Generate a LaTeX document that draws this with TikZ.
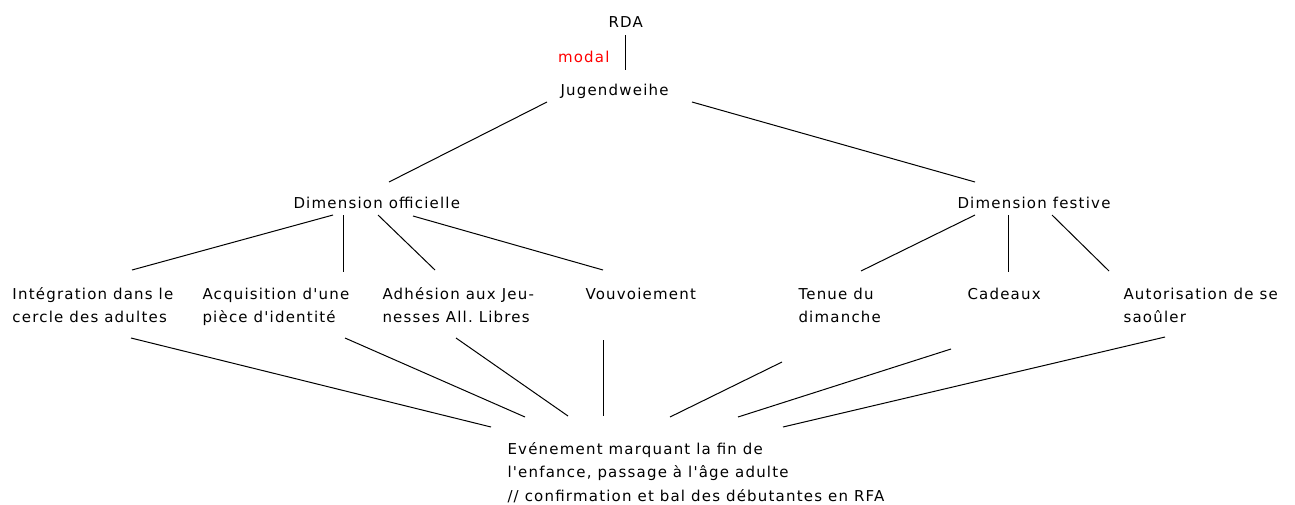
\documentclass[tikz,border=0pt]{standalone}
\usepackage{fontspec}
\usepackage{tikz}
\newfontfamily\diafont[LetterSpace=8]{DejaVu Sans}

\begin{document}
\begin{tikzpicture}[x=1pt,y=-1pt,line width=1pt,
  main node/.style={font=\diafont\fontsize{15}{23.5}\selectfont,inner sep=0pt,align=left,anchor=base west}]
  \useasboundingbox (0,0) rectangle (1295,504);
  % base west = baseline of the last line
  \node[main node] (rda) at (608,27) {RDA};
  \node[main node] (jw) at (560,95) {Jugendweihe};
  \node[main node] (off) at (293,208) {Dimension officielle};
  \node[main node] (fest) at (957,208) {Dimension festive};
  \node[main node] (integ) at (12,322.5) {Intégration dans le\\cercle des adultes};
  \node[main node] (acq) at (202,322.5) {Acquisition d'une\\pièce d'identité};
  \node[main node] (adh) at (382,322.5) {Adhésion aux Jeu-\\nesses All.\ Libres};
  \node[main node] (vouv) at (585,299) {Vouvoiement};
  \node[main node] (tenue) at (798,322.5) {Tenue du\\dimanche};
  \node[main node] (cad) at (967,299) {Cadeaux};
  \node[main node] (auto) at (1123,322.5) {Autorisation de se\\saoûler};
  \node[main node] (evt) at (507,501) {Evénement marquant la fin de\\l'enfance, passage à l'âge adulte\\// confirmation et bal des débutantes en RFA};
  \path
    ([shift={(17,8)}]rda.base west) edge node[main node,text=red,pos=0.62,left=15pt] (modal) {modal} ([shift={(65,-25)}]jw.base west)
    ([shift={(-13,7)}]jw.base west) edge ([shift={(96,-26)}]off.base west)
    ([shift={(132,7)}]jw.base west) edge ([shift={(18,-26)}]fest.base west);
  \path
    ([shift={(40,7)}]off.base west) edge ([shift={(120,-52.5)}]integ.base west)
    ([shift={(50,7)}]off.base west) edge ([shift={(141,-50.5)}]acq.base west)
    ([shift={(85,7)}]off.base west) edge ([shift={(53,-52.5)}]adh.base west)
    ([shift={(120,8)}]off.base west) edge ([shift={(18,-29)}]vouv.base west)
    ([shift={(18,7)}]fest.base west) edge ([shift={(63,-51.5)}]tenue.base west)
    ([shift={(51,7)}]fest.base west) edge ([shift={(41,-27)}]cad.base west)
    ([shift={(95,7)}]fest.base west) edge ([shift={(-14,-51.5)}]auto.base west);
  \path
    ([shift={(119,15.5)}]integ.base west) edge ([shift={(-16,-74)}]evt.base west)
    ([shift={(143,15.5)}]acq.base west) edge ([shift={(18,-84)}]evt.base west)
    ([shift={(74,15.5)}]adh.base west) edge ([shift={(61,-85)}]evt.base west)
    ([shift={(18,41)}]vouv.base west) edge ([shift={(96,-85)}]evt.base west)
    ([shift={(-16,39.5)}]tenue.base west) edge ([shift={(163,-84)}]evt.base west)
    ([shift={(-16,50)}]cad.base west) edge ([shift={(231,-84)}]evt.base west)
    ([shift={(42,14.5)}]auto.base west) edge ([shift={(276,-74)}]evt.base west);
\end{tikzpicture}
\end{document}
